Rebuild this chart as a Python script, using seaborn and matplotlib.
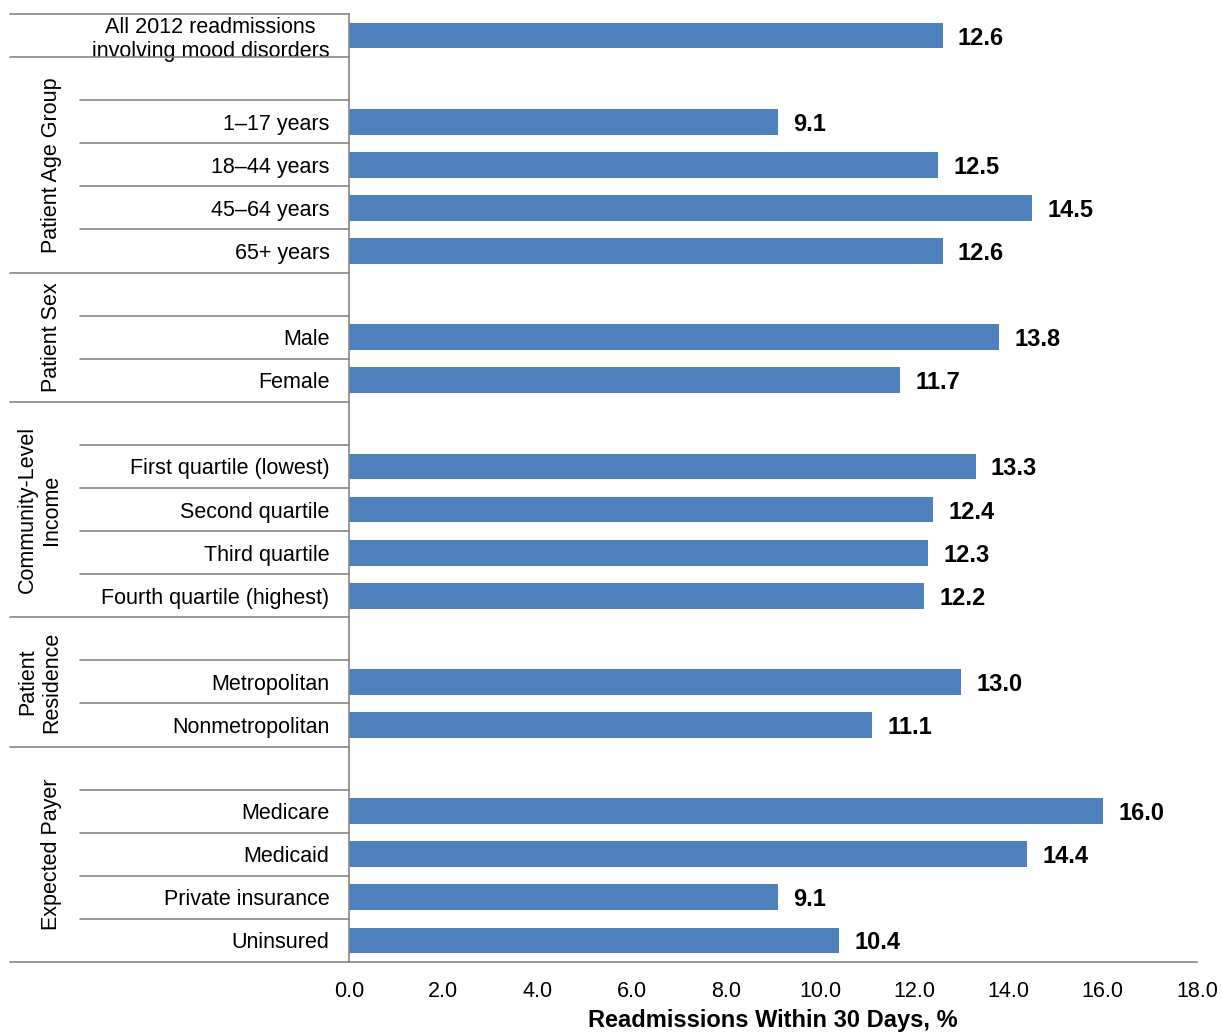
import seaborn as sns
import pandas as pd
import matplotlib.pyplot as plt

# readmission rates (%)
overall_label = "All 2012 readmissions\ninvolving mood disorders"
overall_value = 12.6

group_names = ["Patient Age Group", "Patient Sex", "Community-Level\nIncome",
               "Patient\nResidence", "Expected Payer"]
group_cats = [
    ["1–17 years", "18–44 years", "45–64 years", "65+ years"],
    ["Male", "Female"],
    ["First quartile (lowest)", "Second quartile", "Third quartile", "Fourth quartile (highest)"],
    ["Metropolitan", "Nonmetropolitan"],
    ["Medicare", "Medicaid", "Private insurance", "Uninsured"],
]
group_vals = [
    [9.1, 12.5, 14.5, 12.6],
    [13.8, 11.7],
    [13.3, 12.4, 12.3, 12.2],
    [13.0, 11.1],
    [16.0, 14.4, 9.1, 10.4],
]

# build the row list: one empty header row per group
rows, vals, labels = [overall_label], [overall_value], [overall_label]
group_spans = []
for gi, (cats, vs) in enumerate(zip(group_cats, group_vals)):
    start = len(rows)
    rows.append("_header%d" % gi)
    vals.append(float("nan"))
    labels.append("")
    rows += cats
    vals += vs
    labels += cats
    group_spans.append((start, len(rows) - 1))

df = pd.DataFrame({"row": rows, "value": vals})

sns.set_style("white")
plt.rcParams["font.family"] = ["Liberation Sans", "DejaVu Sans"]
plt.rcParams["text.color"] = "black"
plt.rcParams["xtick.color"] = "black"
plt.rcParams["ytick.color"] = "black"
plt.rcParams["axes.labelcolor"] = "black"

FS = 15.5

fig = plt.figure(figsize=(12.22, 10.34), dpi=100)
ax = fig.add_axes([349 / 1222, 1 - 962 / 1034, (1197 - 349) / 1222, (962 - 14) / 1034])

sns.barplot(data=df, x="value", y="row", order=rows, color="#4F81BD",
            saturation=1, width=0.6, orient="h", ax=ax, edgecolor="none")

value_labels = ax.bar_label(ax.containers[0], fmt="%.1f", padding=11, fontsize=17,
                            fontweight="bold")
for t in value_labels:
    t.set_va("center_baseline")

n = len(rows)
ax.set_ylim(n - 0.5, -0.5)
ax.set_xlim(0, 18)
ax.set_xticks(range(0, 19, 2))
ax.set_xticklabels(["%.1f" % t for t in range(0, 19, 2)], fontsize=FS)
ax.set_yticks(range(n))
ax.set_yticklabels(labels, fontsize=FS)
ax.get_yticklabels()[0].set_multialignment("center")
ax.tick_params(axis="y", length=0, pad=14)
ax.tick_params(axis="x", length=8, width=1.2, color="#888888", direction="out", pad=6)
ax.set_xlabel("Readmissions Within 30 Days, %", fontsize=17, fontweight="bold", labelpad=5)
ax.set_ylabel("")

for side in ["top", "right"]:
    ax.spines[side].set_visible(False)
for side in ["left", "bottom"]:
    ax.spines[side].set_color("#888888")
    ax.spines[side].set_linewidth(1.2)

# separator lines in the label area
tr = ax.get_yaxis_transform()
x_full = (10 - 349) / (1197 - 349)
x_short = (80 - 349) / (1197 - 349)
full_lines = [-0.5, 0.5] + [e + 0.5 for _, e in group_spans]
for b in range(n + 1):
    y = b - 0.5
    x0 = x_full if y in full_lines else x_short
    ax.plot([x0, 0], [y, y], transform=tr, color="#888888", lw=1.2, clip_on=False)

# group titles, rotated
x_group = (62 - 349) / (1197 - 349)
for name, (s, e) in zip(group_names, group_spans):
    ax.text(x_group, (s + e) / 2, name, transform=tr, rotation=90, fontsize=FS,
            ha="right", va="center", multialignment="center")

fig.savefig("out.png", dpi=100)
